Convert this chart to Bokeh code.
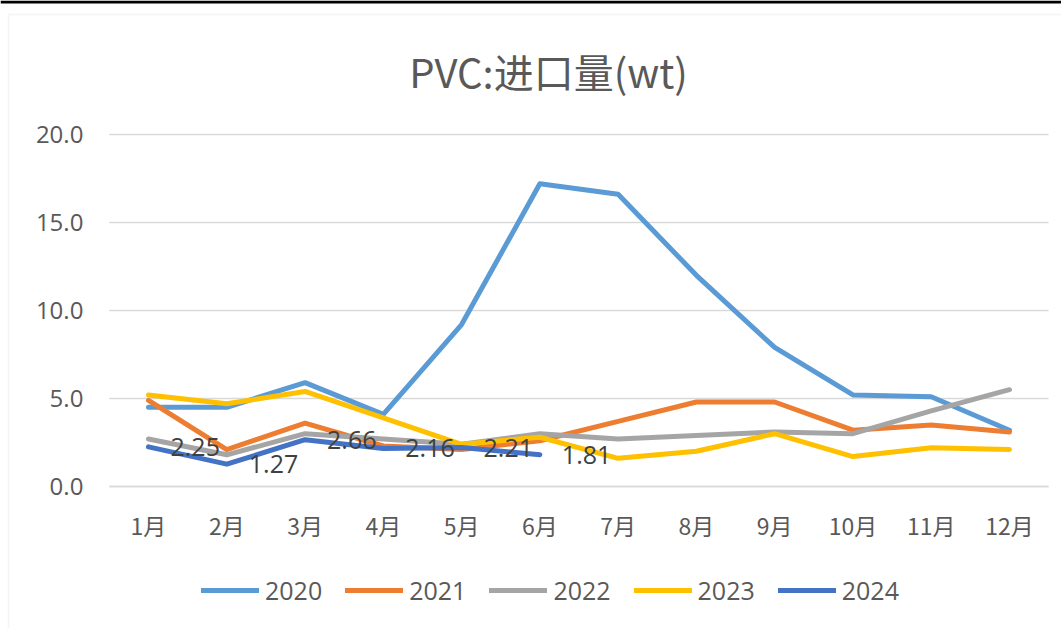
from bokeh.plotting import figure
from bokeh.models import (Range1d, FixedTicker, NumeralTickFormatter, Label,
                          Legend, LegendItem, ColumnDataSource, BoxAnnotation)
from bokeh.core.properties import value
from bokeh.embed import file_html
from bokeh.resources import INLINE

months = ["1月", "2月", "3月", "4月", "5月", "6月", "7月", "8月", "9月", "10月", "11月", "12月"]
years = ["2020", "2021", "2022", "2023", "2024"]
v2020 = [4.5, 4.5, 5.9, 4.1, 9.2, 17.2, 16.6, 12.0, 7.9, 5.2, 5.1, 3.2]
v2021 = [4.9, 2.1, 3.6, 2.3, 2.1, 2.6, 3.7, 4.8, 4.8, 3.2, 3.5, 3.1]
v2022 = [2.7, 1.8, 3.0, 2.7, 2.4, 3.0, 2.7, 2.9, 3.1, 3.0, 4.3, 5.5]
v2023 = [5.2, 4.7, 5.4, 3.9, 2.4, 2.8, 1.6, 2.0, 3.0, 1.7, 2.2, 2.1]
v2024 = [2.25, 1.27, 2.66, 2.16, 2.21, 1.81]
series = [v2020, v2021, v2022, v2023, v2024]
colors = ["#5B9BD5", "#ED7D31", "#A5A5A5", "#FFC000", "#4472C4"]
y_ticks = [0, 5, 10, 15, 20]
title_text = "PVC:进口量(wt)"

CJK = "Noto Sans CJK SC"
LAT = "Open Sans"
W, H = 1061, 628

# layout geometry (pixels): category step, value scale, plot-area origin
STEP = 78.27      # px per month
PXV = 17.6        # px per unit of value
X0_PX, Y0_PX = 148, 486   # pixel position of first month / value 0

xs = list(range(len(months)))
x_lo = -X0_PX / STEP
x_hi = x_lo + W / STEP
y_lo = -(H - Y0_PX) / PXV
y_hi = Y0_PX / PXV
def ypx(py):  # page pixel row -> data value
    return (Y0_PX - py) / PXV
def xpx(px):
    return (px - X0_PX) / STEP

p = figure(width=W, height=H, output_backend="svg", toolbar_location=None,
           x_range=Range1d(x_lo, x_hi), y_range=Range1d(y_lo, y_hi), min_border=0)
p.outline_line_color = None
p.background_fill_color = "white"
p.border_fill_color = "white"
p.xgrid.visible = False
p.ygrid.visible = False

# chart-area border and top rule
p.add_layout(BoxAnnotation(left=xpx(8), right=x_hi + 1, top=ypx(14), bottom=y_lo - 1,
                           fill_alpha=0, line_color="#d9d9d9", line_width=1.5))
p.add_layout(BoxAnnotation(top=y_hi, bottom=ypx(3), fill_color="black", fill_alpha=1,
                           line_color=None))

# horizontal gridlines across the plot area
p.segment(x0=[xs[0] - 0.5] * len(y_ticks), x1=[xs[-1] + 0.5] * len(y_ticks),
          y0=y_ticks, y1=y_ticks, line_color="#d9d9d9", line_width=1.5)

p.yaxis.fixed_location = xs[0] - 0.5
p.yaxis.ticker = FixedTicker(ticks=y_ticks)
p.yaxis.formatter = NumeralTickFormatter(format="0.0")
p.yaxis.axis_line_color = None
p.yaxis.major_tick_line_color = None
p.yaxis.minor_tick_line_color = None
p.yaxis.major_tick_out = 0
p.yaxis.major_label_standoff = 26
p.yaxis.major_label_text_font = LAT
p.yaxis.major_label_text_font_size = "24px"
p.yaxis.major_label_text_color = "#595959"

p.xaxis.fixed_location = 0
p.xaxis.bounds = (xs[0] - 0.5, xs[-1] + 0.5)
p.xaxis.ticker = FixedTicker(ticks=xs)
p.xaxis.major_label_overrides = {i: m for i, m in zip(xs, months)}
p.xaxis.axis_line_color = "#d9d9d9"
p.xaxis.axis_line_width = 1.5
p.xaxis.major_tick_line_color = None
p.xaxis.minor_tick_line_color = None
p.xaxis.major_tick_out = 0
p.xaxis.major_label_standoff = 21
p.xaxis.major_label_text_font = CJK
p.xaxis.major_label_text_font_size = "23px"
p.xaxis.major_label_text_color = "#595959"

items = []
for name, vals, col in zip(years, series, colors):
    src = ColumnDataSource(dict(x=xs[:len(vals)], y=vals))
    r = p.line("x", "y", source=src, line_color=col, line_width=5,
               line_cap="round", line_join="round")
    items.append(LegendItem(label=name, renderers=[r]))

# data labels for 2024
lab_src = ColumnDataSource(dict(x=xs[:len(v2024)], y=v2024,
                                t=["%.2f" % v for v in v2024]))
p.text("x", "y", text="t", source=lab_src, x_offset=22, text_align="left",
       text_baseline="middle", text_font=value(LAT), text_font_size="25px",
       text_color="#404040")

legend = Legend(items=items, orientation="horizontal", location=(201, H - 607),
                glyph_width=58, glyph_height=20, label_height=20, label_standoff=6,
                spacing=23, padding=0, margin=0, border_line_color=None,
                background_fill_alpha=0, label_text_font=LAT,
                label_text_font_size="25px", label_text_color="#595959")
p.add_layout(legend, "center")

p.add_layout(Label(x=xpx(548), y=ypx(70), text=title_text, text_align="center",
                   text_baseline="middle", text_font=CJK, text_font_size="40px",
                   text_color="#595959"))

open("out.html", "w").write(file_html(p, INLINE))
